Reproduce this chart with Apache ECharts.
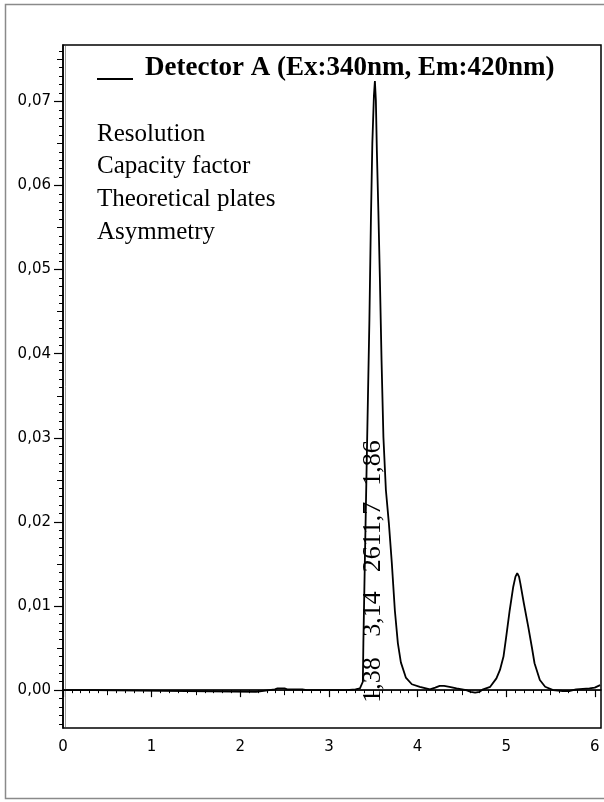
<!DOCTYPE html>
<html>
<head>
<meta charset="utf-8">
<script src="https://cdn.jsdelivr.net/npm/echarts@6/dist/echarts.min.js"></script>
<style>
html,body{margin:0;padding:0;background:#fff;}
#chart{width:604px;height:802px;}
</style>
</head>
<body>
<div id="chart"></div>
<script>
// ---- data ----
const seriesName = 'Detector A (Ex:340nm, Em:420nm)';
const signalTime = [0, 0.34, 0.36, 2.18, 2.2, 2.39, 2.42, 2.5, 2.53, 2.56, 2.7, 2.75, 3.2, 3.3, 3.35, 3.37, 3.383, 3.389, 3.406, 3.423, 3.44, 3.457, 3.474, 3.49, 3.508, 3.519, 3.53, 3.541, 3.558, 3.575, 3.594, 3.615, 3.643, 3.677, 3.71, 3.744, 3.778, 3.812, 3.868, 3.936, 4.026, 4.14, 4.2, 4.25, 4.3, 4.36, 4.44, 4.55, 4.6, 4.65, 4.7, 4.74, 4.82, 4.89, 4.93, 4.97, 5.0, 5.04, 5.08, 5.105, 5.125, 5.145, 5.16, 5.2, 5.25, 5.29, 5.32, 5.38, 5.44, 5.53, 5.64, 5.72, 5.79, 5.94, 6.0, 6.06];
const signalValue = [0, 0, -0.0002, -0.0002, 0, 0.0001, 0.0002, 0.0002, 0.0001, 0.0001, 0.0001, 0, 0, 0.0001, 0.0002, 0.0004, 0.001, 0.0056, 0.0155, 0.025, 0.0345, 0.044, 0.0559, 0.065, 0.0707, 0.0724, 0.0701, 0.0642, 0.057, 0.0491, 0.0392, 0.0301, 0.0238, 0.0198, 0.0151, 0.0095, 0.0056, 0.0033, 0.0015, 0.0007, 0.0004, 0.0001, 0.0003, 0.0005, 0.0005, 0.0004, 0.0002, 0, -0.0002, -0.0003, -0.0002, 0.0001, 0.0004, 0.0014, 0.0024, 0.004, 0.0063, 0.0095, 0.0123, 0.0135, 0.0139, 0.0135, 0.0127, 0.0103, 0.0075, 0.0051, 0.0032, 0.0012, 0.0004, 0, -0.0001, -0.0001, 0.0001, 0.0002, 0.0003, 0.0006];
const baselineTime = [0, 6.07];
const baselineValue = [0, 0];

const xTickValues = [0, 1, 2, 3, 4, 5, 6];
const xTickLabels = ['0', '1', '2', '3', '4', '5', '6'];
const yTickValues = [0, 0.01, 0.02, 0.03, 0.04, 0.05, 0.06, 0.07];
const yTickLabels = ['0,00', '0,01', '0,02', '0,03', '0,04', '0,05', '0,06', '0,07'];

const infoLines = ['Resolution', 'Capacity factor', 'Theoretical plates', 'Asymmetry'];
const peakAnnotations = ['1,38', '3,14', '2611,7', '1,86'];

const xRange = [0, 6.07];
const yRange = [-0.0045, 0.0767];

// minor tick positions
const xMinor = [], xMid = [], yMinor = [], yMid = [];
for (let i = 0; i <= 60; i++) xMinor.push(+(i * 0.1).toFixed(2));
for (let i = 0; i <= 12; i++) xMid.push(+(i * 0.5).toFixed(2));
for (let i = -4; i <= 76; i++) yMinor.push(+(i * 0.001).toFixed(4));
for (let i = 0; i <= 15; i++) yMid.push(+(i * 0.005).toFixed(4));

function labelFor(vals, labels, v) {
  let best = 0, d = Infinity;
  vals.forEach((t, i) => { const dd = Math.abs(t - v); if (dd < d) { d = dd; best = i; } });
  return labels[best];
}

const signalData = signalTime.map((t, i) => [t, signalValue[i]]);
const baselineData = baselineTime.map((t, i) => [t, baselineValue[i]]);

const tickFont = { fontFamily: 'DejaVu Sans', fontSize: 15, color: '#000' };

function extraAxis(kind, values, len) {
  return {
    type: 'value', gridIndex: 0,
    min: kind === 'x' ? xRange[0] : yRange[0],
    max: kind === 'x' ? xRange[1] : yRange[1],
    position: kind === 'x' ? 'bottom' : 'left', offset: 0,
    axisLine: { show: false },
    axisLabel: { show: false },
    splitLine: { show: false },
    axisTick: { show: true, length: len, customValues: values, lineStyle: { color: '#000', width: 1 } }
  };
}

const chart = echarts.init(document.getElementById('chart'), null, { renderer: 'canvas' });
const option = {
  animation: false,
  backgroundColor: '#fff',
  grid: { left: 63, top: 45, right: 3, bottom: 74, show: true, borderColor: '#000', borderWidth: 1.5, backgroundColor: 'transparent' },
  xAxis: [
    {
      type: 'value', gridIndex: 0, min: xRange[0], max: xRange[1], position: 'bottom', offset: 0,
      axisLine: { show: true, lineStyle: { color: '#000', width: 1.5 } },
      axisTick: { show: true, length: 7, customValues: xTickValues, lineStyle: { color: '#000', width: 1.2 } },
      axisLabel: Object.assign({ show: true, margin: 12, customValues: xTickValues,
        formatter: v => labelFor(xTickValues, xTickLabels, v) }, tickFont),
      splitLine: { show: false }
    },
    extraAxis('x', xMinor, 3),
    extraAxis('x', xMid, 5)
  ],
  yAxis: [
    {
      type: 'value', gridIndex: 0, min: yRange[0], max: yRange[1], position: 'left', offset: 0,
      axisLine: { show: true, lineStyle: { color: '#000', width: 1.5 } },
      axisTick: { show: true, length: 9, customValues: yTickValues, lineStyle: { color: '#000', width: 1.2 } },
      axisLabel: Object.assign({ show: true, margin: 12, customValues: yTickValues,
        formatter: v => labelFor(yTickValues, yTickLabels, v) }, tickFont),
      splitLine: { show: false }
    },
    extraAxis('y', yMinor, 4),
    extraAxis('y', yMid, 6)
  ],
  series: [
    {
      name: 'baseline', type: 'line', xAxisIndex: 0, yAxisIndex: 0, data: baselineData,
      symbol: 'none', silent: true, lineStyle: { color: '#000', width: 1 }, z: 2
    },
    {
      name: seriesName, type: 'line', xAxisIndex: 0, yAxisIndex: 0, data: signalData,
      symbol: 'none', lineStyle: { color: '#000', width: 1.8 }, z: 3
    }
  ],
  graphic: [
    { type: 'rect', shape: { x: 5.5, y: 4.5, width: 610, height: 794 }, style: { fill: 'none', stroke: '#8a8a8a', lineWidth: 1.5 }, z: 0, silent: true },
    { type: 'line', shape: { x1: 65.5, y1: 46, x2: 65.5, y2: 727 }, style: { stroke: '#999', lineWidth: 1 }, z: 1, silent: true },
    { type: 'line', shape: { x1: 97, y1: 79, x2: 133, y2: 79 }, style: { stroke: '#000', lineWidth: 2 }, z: 10 },
    { type: 'text', x: 145, y: 68, style: { text: seriesName, font: 'bold 27px "Liberation Serif"', fill: '#000', align: 'left', verticalAlign: 'middle' }, z: 10 }
  ].concat(infoLines.map((t, i) => ({
    type: 'text', x: 97, y: 134 + i * 32.7,
    style: { text: t, font: '25px "Liberation Serif"', fill: '#000', align: 'left', verticalAlign: 'middle' }, z: 10
  }))).concat(peakAnnotations.map((t, i) => ({
    type: 'text', x: 373, y: [680, 614, 537, 463][i], rotation: Math.PI / 2,
    style: { text: t, font: '26px "Liberation Serif"', fill: '#000', align: 'center', verticalAlign: 'middle' }, z: 10
  })))
};
chart.setOption(option);
</script>
</body>
</html>
